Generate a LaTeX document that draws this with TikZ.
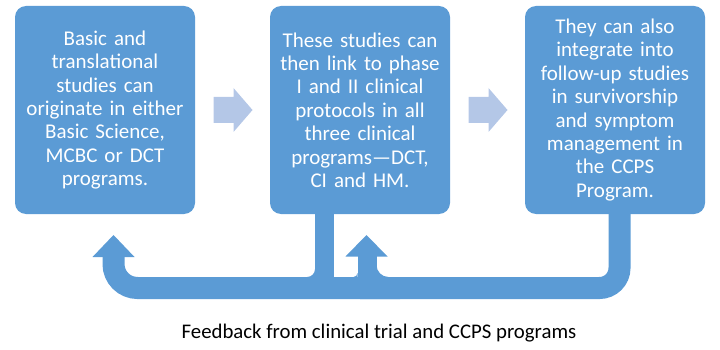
\documentclass[tikz,border=0pt]{standalone}
\usepackage{fontspec}
\setmainfont{Carlito}
\usetikzlibrary{calc}
\definecolor{boxblue}{HTML}{5B9BD5}
\definecolor{liteblue}{HTML}{B4C7E7}
\tikzset{
  stagebox/.style={fill=boxblue, rounded corners=11pt, minimum width=180pt, minimum height=208pt,
    inner sep=0pt, text width=176pt, align=center, text=white,
    font=\fontsize{21}{23.4}\selectfont},
  litearrow/.style={fill=liteblue},
  band/.style={draw=boxblue, line width=22pt},
  bandfill/.style={fill=boxblue},
  caption/.style={font=\fontsize{20.8}{24}\selectfont, text=black, inner sep=0pt}
}
\begin{document}
\begin{tikzpicture}[x=1pt,y=-1pt]
\useasboundingbox (0,0) rectangle (720,350);
% boxes
\node[stagebox] (b1) at (105,110) {Basic and\\translational\\studies can\\originate in either\\Basic Science,\\MCBC or DCT\\programs.};
\node[stagebox] (b2) at (360,110) {These studies can\\then link to phase\\I and II clinical\\protocols in all\\three clinical\\programs—DCT,\\CI and HM.};
\node[stagebox] (b3) at (615,110) {They can also\\integrate into\\follow-up studies\\in survivorship\\and symptom\\management in\\the CCPS\\Program.};
% light block arrows between boxes
\coordinate (m1) at ($(b1.east)!0.5!(b2.west)$);
\coordinate (m2) at ($(b2.east)!0.5!(b3.west)$);
\foreach \m in {m1,m2}{
  \fill[litearrow, shift={(\m)}] (-19,-13) -- (1,-13) -- (1,-22) -- (20,0) -- (1,22) -- (1,13) -- (-19,13) -- cycle;
}
% feedback arrow
\coordinate (s3top) at (619.5,210);
\coordinate (s3bot) at (619.5,288);
\coordinate (bandmid) at (360,288);
\coordinate (bandmid2) at (400,288);
\coordinate (lcorner) at (113.5,288);
\coordinate (ltail) at (113.5,255);
\coordinate (s2top) at (324.5,210);
\coordinate (s2bot) at (324.5,290);
\coordinate (a2tail) at (367,290);
\coordinate (a2top) at (367,255);
\draw[band, rounded corners=20pt] (s3top) -- (s3bot) -- (bandmid);
\draw[band, rounded corners=24pt] (bandmid2) -- (lcorner) -- (ltail);
\draw[draw=boxblue, line width=19pt] (s2top) -- (s2bot);
\draw[draw=boxblue, line width=19pt] (a2tail) -- (a2top);
% arrow heads
\fill[bandfill] (113.5,235) -- (134.5,257) -- (92.5,257) -- cycle;
\fill[bandfill] (366.5,235) -- (387.5,256.5) -- (345.5,256.5) -- cycle;
% fillets
\fill[bandfill] (315,269) arc[start angle=0,end angle=90,radius=8] -- (315,277) -- cycle;
\fill[bandfill] (376.5,265) arc[start angle=180,end angle=90,radius=12] -- (376.5,277) -- cycle;
\fill[bandfill] (357.5,273) arc[start angle=0,end angle=90,radius=4] -- (357.5,277) -- cycle;
% caption
\node[caption] (cap) at (379,333) {Feedback from clinical trial and CCPS programs};
\end{tikzpicture}
\end{document}
